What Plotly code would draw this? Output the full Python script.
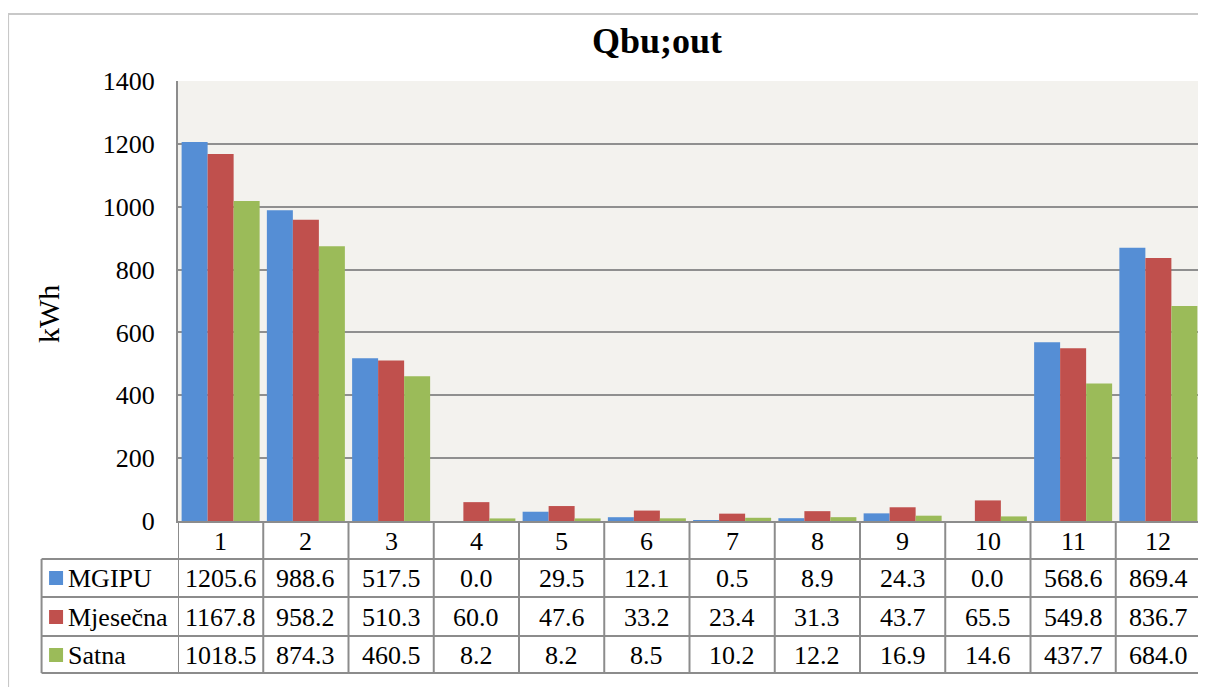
import plotly.graph_objects as go

months = [1, 2, 3, 4, 5, 6, 7, 8, 9, 10, 11, 12]
series_names = ["MGIPU", "Mjesečna", "Satna"]
mgipu = [1205.6, 988.6, 517.5, 0.0, 29.5, 12.1, 0.5, 8.9, 24.3, 0.0, 568.6, 869.4]
mjesecna = [1167.8, 958.2, 510.3, 60.0, 47.6, 33.2, 23.4, 31.3, 43.7, 65.5, 549.8, 836.7]
satna = [1018.5, 874.3, 460.5, 8.2, 8.2, 8.5, 10.2, 12.2, 16.9, 14.6, 437.7, 684.0]
colors = ["#558ED5", "#C0504D", "#9BBB59"]
y_ticks = [0, 200, 400, 600, 800, 1000, 1200, 1400]

OFF = 8  # default page body margin
W, H = 1206 - OFF, 687 - OFF
# plot area in page pixels
PL, PR, PT, PB = 178, 1201.5, 81, 521
FONT = "Liberation Serif"
FS = 26


def px(x):
    return (x - PL) / (PR - PL)


def py(y):
    return (PB - y) / (PB - PT)


fig = go.Figure()
for name, vals, col in zip(series_names, [mgipu, mjesecna, satna], colors):
    fig.add_trace(go.Bar(x=months, y=vals, name=name, marker=dict(color=col, line=dict(width=0)),
                         showlegend=False))

shapes = []
annotations = []
line_col = "#8c8c8c"

# outer chart border
shapes.append(dict(type="rect", xref="paper", yref="paper", x0=px(8), x1=px(1215), y0=py(700), y1=py(14),
                   line=dict(color="#c8c8c8", width=2), layer="below"))

# table horizontal lines
for yy in [559, 597, 636, 673]:
    shapes.append(dict(type="line", xref="paper", yref="paper", x0=px(41.5), x1=1, y0=py(yy), y1=py(yy),
                       line=dict(color=line_col, width=2)))
# left vertical line of table
shapes.append(dict(type="line", xref="paper", yref="paper", x0=px(41.5), x1=px(41.5), y0=py(559), y1=py(673),
                   line=dict(color=line_col, width=2)))
# column dividers
for k in range(len(months) + 1):
    xv = months[0] - 0.5 + k
    shapes.append(dict(type="line", xref="x", yref="paper", x0=xv, x1=xv, y0=0, y1=py(673),
                       line=dict(color=line_col, width=2)))

# header labels
for m in months:
    annotations.append(dict(x=m, y=py(541), xref="x", yref="paper", text=str(m), showarrow=False,
                            font=dict(family=FONT, size=FS, color="black"), xanchor="center", yanchor="middle"))

row_y = [578, 617, 655]
for name, vals, col, yy in zip(series_names, [mgipu, mjesecna, satna], colors, row_y):
    for m, v in zip(months, vals):
        annotations.append(dict(x=m, y=py(yy), xref="x", yref="paper", text=f"{v:.1f}", showarrow=False,
                                font=dict(family=FONT, size=FS, color="black"), xanchor="center",
                                yanchor="middle"))
    shapes.append(dict(type="rect", xref="paper", yref="paper", x0=px(49), x1=px(63), y0=py(yy + 7),
                       y1=py(yy - 7), fillcolor=col, line=dict(width=0)))
    annotations.append(dict(x=px(66), y=py(yy), xref="paper", yref="paper", text=name, showarrow=False,
                            font=dict(family=FONT, size=FS, color="black"), xanchor="left", yanchor="middle"))

# y-axis title
annotations.append(dict(x=px(48), y=py(314), xref="paper", yref="paper", text="kWh", showarrow=False,
                        textangle=-90, font=dict(family=FONT, size=30, color="black"),
                        xanchor="center", yanchor="middle"))
# title
annotations.append(dict(x=px(657), y=py(41), xref="paper", yref="paper", text="<b>Qbu;out</b>",
                        showarrow=False, font=dict(family=FONT, size=36, color="black"),
                        xanchor="center", yanchor="middle"))

fig.update_layout(
    width=W, height=H,
    margin=dict(l=PL - OFF, r=W - (PR - OFF), t=PT - OFF, b=H - (PB - OFF)),
    paper_bgcolor="white",
    plot_bgcolor="#F3F2EE",
    barmode="group",
    bargap=0.085,
    bargroupgap=0,
    shapes=shapes,
    annotations=annotations,
    font=dict(family=FONT, color="black"),
)
fig.update_xaxes(range=[0.5, 12.5], showticklabels=False, showgrid=False, zeroline=False,
                 showline=True, linecolor=line_col, linewidth=2, ticks="")
fig.update_yaxes(range=[0, 1400], tickvals=y_ticks, showgrid=True, gridcolor="#8f8f8f", gridwidth=1.5,
                 zeroline=False, showline=True, linecolor=line_col, linewidth=2, ticks="",
                 ticklabelstandoff=16, tickfont=dict(family=FONT, size=FS, color="black"))

fig.write_html("out.html")
